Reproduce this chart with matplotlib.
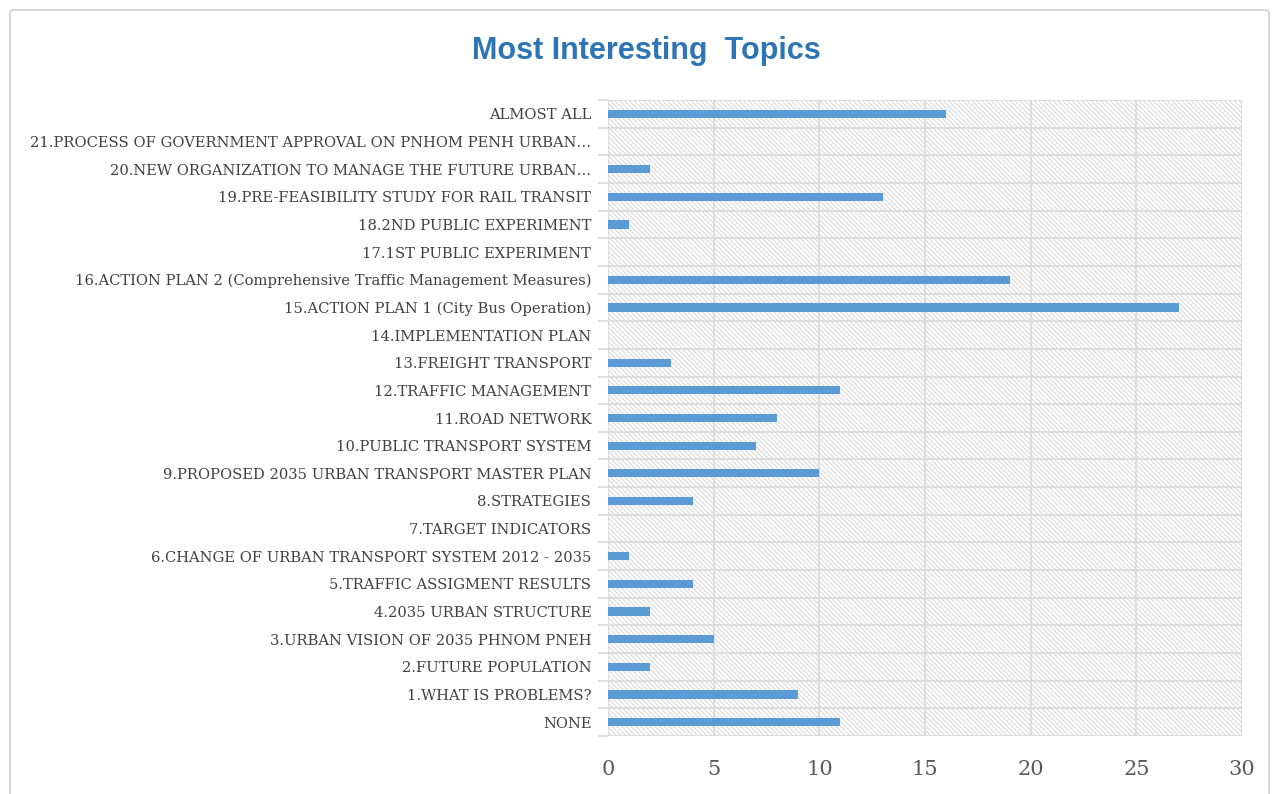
import numpy as np
import matplotlib.pyplot as plt
from matplotlib.patches import Rectangle, FancyBboxPatch

# topics listed bottom to top
topics = [
    'NONE',
    '1.WHAT IS PROBLEMS?',
    '2.FUTURE POPULATION',
    '3.URBAN VISION OF 2035 PHNOM PNEH',
    '4.2035 URBAN STRUCTURE',
    '5.TRAFFIC ASSIGMENT RESULTS',
    '6.CHANGE OF URBAN TRANSPORT SYSTEM 2012 - 2035',
    '7.TARGET INDICATORS',
    '8.STRATEGIES',
    '9.PROPOSED 2035 URBAN TRANSPORT MASTER PLAN',
    '10.PUBLIC TRANSPORT SYSTEM',
    '11.ROAD NETWORK',
    '12.TRAFFIC MANAGEMENT',
    '13.FREIGHT TRANSPORT',
    '14.IMPLEMENTATION PLAN',
    '15.ACTION PLAN 1 (City Bus Operation)',
    '16.ACTION PLAN 2 (Comprehensive Traffic Management Measures)',
    '17.1ST PUBLIC EXPERIMENT',
    '18.2ND PUBLIC EXPERIMENT',
    '19.PRE-FEASIBILITY STUDY FOR RAIL TRANSIT',
    '20.NEW ORGANIZATION TO MANAGE THE FUTURE URBAN…',
    '21.PROCESS OF GOVERNMENT APPROVAL ON PNHOM PENH URBAN…',
    'ALMOST ALL',
]
counts = [11, 9, 2, 5, 2, 4, 1, 0, 4, 10, 7, 8, 11, 3, 0, 27, 19, 0, 1, 13, 2, 0, 16]
xticks = [0, 5, 10, 15, 20, 25, 30]

grid_c = '#D9D9D9'
bar_c = '#5B9BD5'

plt.rcParams['hatch.linewidth'] = 1.0

fig = plt.figure(figsize=(12.72, 7.94), dpi=100)
# chart frame
fig.patches.append(FancyBboxPatch((10 / 1272, -0.02), 1259 / 1272, 784 / 794 + 0.02,
                                  boxstyle='round,pad=0,rounding_size=0.004',
                                  transform=fig.transFigure, fill=False,
                                  edgecolor='#D0D0D0', linewidth=1.2))

ax = fig.add_axes([608 / 1272, 1 - 736 / 794, (1242 - 608) / 1272, (736 - 100) / 794])

n = len(topics)
y = np.arange(n)
ax.set_xlim(0, 30)
ax.set_ylim(-0.5, n - 0.5)

# hatched plot area
ax.add_patch(Rectangle((0, -0.5), 30, n, facecolor='white', edgecolor='#E0E0E0',
                       hatch='\\' * 7, linewidth=0, zorder=0))

for v in xticks:
    ax.axvline(v, color=grid_c, lw=1.2, zorder=1)
for b in np.arange(-0.5, n, 1):
    ax.axhline(b, color=grid_c, lw=1.2, zorder=1)

ax.barh(y, counts, height=0.3, color=bar_c, zorder=3)

for s in ax.spines.values():
    s.set_visible(False)

ax.set_yticks(y)
ax.set_yticklabels(topics, family='DejaVu Serif', fontsize=10.6, color='#404040')
ax.tick_params(axis='y', length=0, pad=12)
ax.set_yticks(np.arange(-0.5, n, 1), minor=True)
ax.tick_params(axis='y', which='minor', length=7, color=grid_c, width=1.2)

ax.set_xticks(xticks)
ax.set_xticklabels([str(v) for v in xticks], family='DejaVu Serif', fontsize=15, color='#595959')
ax.tick_params(axis='x', length=0, pad=17)

fig.text(646 / 1272, 1 - 51 / 794, 'Most Interesting  Topics', ha='center', va='center',
         family='Liberation Sans', fontweight='bold', fontsize=22, color='#2E75B6')

fig.savefig('out.png', dpi=100)
